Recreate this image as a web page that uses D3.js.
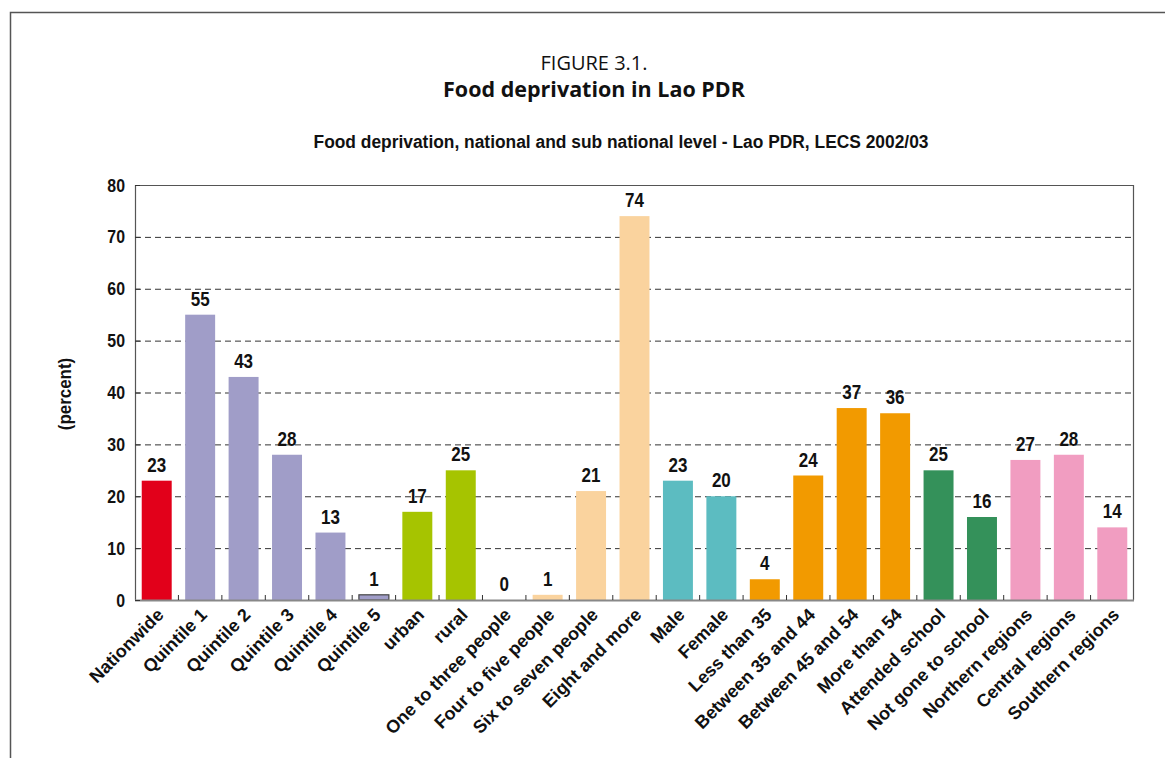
<!DOCTYPE html>
<html><head><meta charset="utf-8">
<script src="https://cdn.jsdelivr.net/npm/d3@7"></script>
<style>body{margin:0;background:#fff}svg{display:block}</style>
</head><body>
<script>
const categories = ["Nationwide","Quintile 1","Quintile 2","Quintile 3","Quintile 4","Quintile 5","urban","rural","One to three people","Four to five people","Six to seven people","Eight and more","Male","Female","Less than 35","Between 35 and 44","Between 45 and 54","More than 54","Attended school","Not gone to school","Northern regions","Central regions","Southern regions"];
const values = [23,55,43,28,13,1,17,25,0,1,21,74,23,20,4,24,37,36,25,16,27,28,14];
const groups = ["nat","q","q","q","q","q5","ur","ur","hh","hh","hh","hh","sex","sex","age","age","age","age","edu","edu","reg","reg","reg"];
const groupColors = {nat:"#E2001A",q:"#A09DC8",q5:"#A09DC8",ur:"#A6C400",hh:"#FAD39E",sex:"#5CBCC1",age:"#F29A00",edu:"#34915A",reg:"#F19DC1"};
const yTicks = [0,10,20,30,40,50,60,70,80];

const W=1165,H=758;
const svg=d3.select("body").append("svg").attr("width",W).attr("height",H);
const NARROW="'Liberation Sans',Arial,sans-serif";
// frame
svg.append("path").attr("d","M10.5,758 L10.5,12.5 L1165,12.5").attr("fill","none").attr("stroke","#555").attr("stroke-width",1.5);

const m={l:135,r:1134,t:185,b:600};
const x=d3.scaleBand().domain(categories).range([m.l,m.r]).paddingInner(0.31).paddingOuter(0.155);
const y=d3.scaleLinear().domain([0,80]).range([m.b,m.t]);

// titles
svg.append("text").attr("x",594).attr("y",70).attr("text-anchor","middle").attr("font-family","'Open Sans',sans-serif").attr("font-size",20).attr("fill","#111").text("FIGURE 3.1.");
svg.append("text").attr("x",594).attr("y",97).attr("text-anchor","middle").attr("font-family","'Open Sans',sans-serif").attr("font-weight","bold").attr("font-size",21.5).attr("fill","#111").text("Food deprivation in Lao PDR");
svg.append("text").attr("transform","translate(621,148) scale(0.94,1)").attr("text-anchor","middle").attr("font-family",NARROW).attr("font-weight","bold").attr("font-size",18.5).attr("fill","#111").text("Food deprivation, national and sub national level - Lao PDR, LECS 2002/03");

// gridlines
svg.append("g").selectAll("line").data(yTicks.filter(d=>d>0&&d<80)).join("line")
  .attr("x1",m.l).attr("x2",m.r).attr("y1",d=>y(d)+0.5).attr("y2",d=>y(d)+0.5)
  .attr("stroke","#333").attr("stroke-width",1).attr("stroke-dasharray","6,4");

// plot border
svg.append("path").attr("d",`M${m.l+0.5},${m.b} L${m.l+0.5},${m.t+0.5} L${m.r-0.5},${m.t+0.5} L${m.r-0.5},${m.b}`).attr("fill","none").attr("stroke","#555").attr("stroke-width",1.2);

// bars
svg.append("g").selectAll("rect").data(values).join("rect")
  .attr("x",(d,i)=>x(categories[i])).attr("width",x.bandwidth())
  .attr("y",d=>y(d)).attr("height",d=>y(0)-y(d))
  .attr("fill",(d,i)=>groupColors[groups[i]])
  .attr("stroke",(d,i)=>groups[i]==="q5"?"#444":"none").attr("stroke-width",1.2);

// x axis line & ticks
const step=x.step();
svg.append("line").attr("x1",m.l).attr("x2",m.r).attr("y1",m.b+0.5).attr("y2",m.b+0.5).attr("stroke","#888").attr("stroke-width",2);
svg.append("g").selectAll("line").data(d3.range(1,categories.length)).join("line")
  .attr("x1",i=>m.l+i*step).attr("x2",i=>m.l+i*step).attr("y1",m.b).attr("y2",m.b-5).attr("stroke","#333");

// y axis inner ticks
svg.append("g").selectAll("line").data(yTicks).join("line")
  .attr("x1",m.l).attr("x2",m.l+5).attr("y1",d=>y(d)+0.5).attr("y2",d=>y(d)+0.5).attr("stroke","#333");
// y tick labels
svg.append("g").selectAll("text").data(yTicks).join("text")
  .attr("transform",d=>`translate(${m.l-10},${y(d)+6.5}) scale(0.86,1)`)
  .attr("text-anchor","end").attr("font-family",NARROW).attr("font-weight","bold").attr("font-size",18.5).attr("fill","#111")
  .text(d=>d);

// value labels
svg.append("g").selectAll("text").data(values).join("text")
  .attr("transform",(d,i)=>`translate(${x(categories[i])+x.bandwidth()/2},${y(d)-9}) scale(0.85,1)`)
  .attr("text-anchor","middle").attr("font-family",NARROW).attr("font-weight","bold").attr("font-size",20).attr("fill","#111")
  .text(d=>d);

// category labels
svg.append("g").selectAll("text").data(categories).join("text")
  .attr("transform",d=>`translate(${x(d)+x.bandwidth()/2+8},${m.b+16}) rotate(-45)`)
  .attr("text-anchor","end").attr("font-family","'Liberation Sans',Arial,sans-serif").attr("font-weight","bold").attr("font-size",18).attr("fill","#111")
  .text(d=>d);

// y label
svg.append("text").attr("transform","translate(71,394) rotate(-90) scale(0.94,1)").attr("text-anchor","middle")
  .attr("font-family",NARROW).attr("font-weight","bold").attr("font-size",18).attr("fill","#111").text("(percent)");
</script>
</body></html>
